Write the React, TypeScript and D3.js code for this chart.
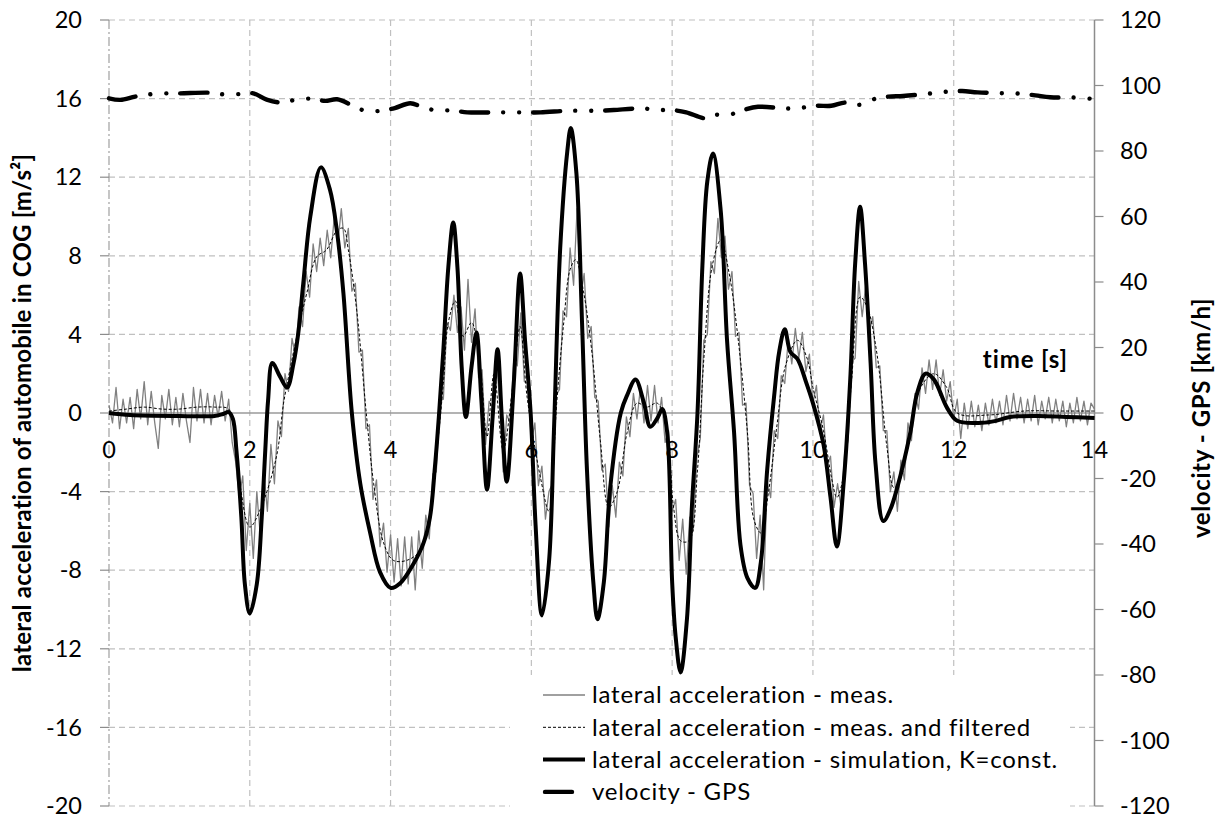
import * as d3 from "d3";
import React from "react";

// time axis and the two value axes
const timeTicks = [0, 2, 4, 6, 8, 10, 12, 14];
const accelTicks = [-20, -16, -12, -8, -4, 0, 4, 8, 12, 16, 20];
const speedTicks = [-120, -100, -80, -60, -40, -20, 0, 20, 40, 60, 80, 100, 120];

// measured lateral acceleration, one value every 0.05 s from 0 to 14 s
const measuredStep = 0.05;
const measured = [
  0.4, -0.5, 1.3, -0.8, 0.7, -0.5, 0.8, -0.8, 1.2, -0.3, 1.6, -0.6, 1.1, -0.5, -1.8, 0.9, -0.3, 1.2, -0.6, 0.8,
  -0.7, 1.0, -0.4, -1.5, 1.3, -0.4, 1.2, -0.5, 1.0, -0.6, 0.9, -0.2, 1.1, -0.4, 0.7, -1.5, -2.5, -4.3, -3.2, -7.0,
  -4.6, -7.4, -4.0, -6.3, -3.0, -5.0, -1.6, -3.6, -0.4, -1.2, 2.0, 1.1, 3.8, 2.9, 5.4, 4.4, 7.2, 5.9, 8.6, 7.2,
  8.9, 7.5, 9.3, 7.9, 10.0, 8.6, 10.4, 8.4, 9.4, 6.2, 6.6, 3.1, 3.2, -0.8, -0.6, -4.4, -3.4, -6.8, -5.6, -8.1,
  -6.2, -8.6, -6.4, -8.8, -6.3, -8.7, -6.3, -9.0, -6.0, -7.9, -5.2, -6.4, -3.1, -3.0, 0.6, 0.7, 4.6, 4.2, 6.0, 4.1,
  5.4, 3.2, 6.8, 3.6, 5.3, 1.8, 2.2, -1.6, 0.6, 0.3, 2.8, 0.6, -3.0, -0.1, -0.5, 2.7, 2.4, 5.1, 1.6, 1.5,
  -1.5, -0.5, -3.7, -2.7, -5.4, -4.0, -3.6, 0.9, 1.2, 5.2, 4.9, 8.4, 6.5, 10.4, 5.9, 7.1, 3.8, 4.4, 0.8, 0.6,
  -2.9, -2.6, -5.8, -3.7, -5.3, -2.5, -3.2, -0.2, -1.2, 1.0, -0.3, 1.3, -0.5, 1.4, -0.4, 1.4, -0.5, 0.8, -1.5, -0.9,
  -5.0, -4.4, -7.5, -5.4, -8.2, -5.3, -6.0, -2.3, -1.3, 3.7, 4.0, 7.7, 7.1, 9.9, 7.9, 9.0, 6.3, 7.2, 3.9, 4.1,
  0.4, 0.5, -3.7, -4.1, -7.4, -5.2, -9.0, -3.5, -4.3, -0.9, -1.3, 1.9, 1.5, 3.8, 2.5, 4.3, 2.8, 4.1, 2.1, 3.0,
  0.5, 1.4, -0.9, -0.1, -2.7, -2.2, -4.8, -3.6, -4.8, -2.1, -1.4, 2.6, 2.8, 6.7, 4.9, 6.5, 4.1, 4.9, 2.3, 2.4,
  -0.9, -0.9, -4.0, -3.0, -5.0, -2.4, -3.4, -0.5, -1.4, 1.0, 0.2, 2.3, 1.0, 2.7, 1.2, 2.7, 0.9, 2.2, 0.6, 1.6,
  -0.3, 0.7, -1.3, 0.5, -0.8, 0.6, -0.7, 0.4, -0.9, 0.5, -0.6, 0.7, -0.5, 0.6, -0.6, 0.9, -0.4, 1.0, -0.3, 0.8,
  -0.5, 0.7, -0.4, 0.9, -0.6, 0.6, -0.3, 0.8, -0.5, 0.7, -0.4, 0.6, -0.7, 0.5, -0.5, 0.8, -0.4, 0.6, -0.6, 0.5,
  0.2,
];

// measured and filtered [time s, acceleration m/s2]
const filtered: [number, number][] = [
  [0, 0.1], [0.25, 0.2], [0.5, 0.3], [0.75, 0.2], [1.0, 0.2], [1.25, 0.3], [1.5, 0.3], [1.7, 0.2],
  [1.78, -1.0], [1.86, -3.6], [2.0, -5.8], [2.15, -4.9], [2.38, -2.2], [2.48, 0.5], [2.57, 2.2],
  [2.71, 4.6], [2.81, 6.1], [2.95, 7.95], [3.09, 8.3], [3.24, 9.3], [3.33, 9.4], [3.4, 8.3],
  [3.52, 5.2], [3.66, -0.2], [3.76, -3.6], [3.9, -6.6], [4.04, -7.5], [4.23, -7.5], [4.42, -7.0],
  [4.56, -5.3], [4.66, -1.9], [4.75, 1.5], [4.82, 4.6], [4.92, 5.7], [5.03, 3.9], [5.15, 4.6],
  [5.27, 2.5], [5.37, -1.2], [5.47, 2.0], [5.6, -1.9], [5.74, 1.5], [5.84, 4.4], [5.94, 0.8],
  [6.13, -3.3], [6.25, -5.0], [6.36, 0.5], [6.46, 4.6], [6.55, 7.3], [6.63, 7.8], [6.74, 6.2],
  [6.86, 3.1], [6.98, -1.4], [7.1, -4.8], [7.22, -4.0], [7.36, -1.0], [7.5, 0.5], [7.64, 0.3],
  [7.79, 0.5], [7.93, -1.0], [8.02, -4.8], [8.12, -6.5], [8.24, -6.5], [8.36, -2.9], [8.45, 2.75],
  [8.57, 7.5], [8.69, 8.8], [8.81, 7.1], [8.92, 4.3], [9.07, -1.0], [9.16, -5.4], [9.26, -6.1],
  [9.37, -4.0], [9.49, -0.6], [9.61, 2.4], [9.78, 3.7], [9.92, 2.75], [10.0, 1.3], [10.15, -0.9],
  [10.27, -3.4], [10.34, -4.3], [10.44, -3.1], [10.55, 1.7], [10.67, 5.9], [10.77, 5.4], [10.91, 3.0],
  [11.05, -1.7], [11.15, -3.8], [11.24, -3.4], [11.38, -0.9], [11.53, 1.3], [11.72, 2.0], [11.9, 1.3],
  [12.05, 0], [12.5, -0.1], [13.0, 0.1], [13.5, 0.1], [14.0, 0.1],
];

// simulation, K=const. [time s, acceleration m/s2]
const simulation: [number, number][] = [
  [0, 0], [0.3, -0.1], [1.0, -0.15], [1.5, -0.15], [1.62, -0.05], [1.7, 0.05], [1.76, -0.3],
  [1.81, -1.9], [1.88, -5.3], [1.93, -8.7], [2.0, -10.2], [2.1, -8.7], [2.17, -5.3], [2.22, -1.9],
  [2.26, 0.65], [2.32, 2.55], [2.43, 1.85], [2.53, 1.3], [2.62, 2.5], [2.69, 4.1], [2.76, 6.6],
  [2.86, 10.0], [3.01, 12.5], [3.14, 11.35], [3.24, 9.2], [3.33, 6.1], [3.45, 0], [3.57, -3.6],
  [3.71, -6.1], [3.85, -8.1], [4.0, -8.9], [4.14, -8.65], [4.33, -7.65], [4.47, -6.6], [4.56, -5.3],
  [4.63, -2.75], [4.69, 0], [4.75, 3.2], [4.82, 7.4], [4.89, 9.7], [4.95, 7.4], [5.01, 2.35],
  [5.07, -0.2], [5.15, 2.35], [5.22, 4.1], [5.29, 0.65], [5.37, -3.9], [5.45, -0.2], [5.52, 3.25],
  [5.58, -0.2], [5.65, -3.5], [5.75, 1.5], [5.84, 7.1], [5.91, 3.7], [5.99, 0], [6.06, -5.7],
  [6.15, -10.3], [6.25, -7.6], [6.32, -1.0], [6.41, 8.4], [6.51, 13.3], [6.56, 14.5], [6.64, 12.2],
  [6.72, 4.6], [6.79, -2.9], [6.88, -8.6], [6.94, -10.5], [7.03, -8.6], [7.12, -3.8], [7.27, 0],
  [7.36, 0.9], [7.48, 1.7], [7.6, 0.5], [7.69, -0.7], [7.79, -0.26], [7.86, 0.2], [7.93, -1.0],
  [8.0, -8.6], [8.05, -11.4], [8.12, -13.2], [8.21, -10.5], [8.28, -4.8], [8.36, 0], [8.43, 7.5],
  [8.5, 11.8], [8.58, 13.2], [8.69, 10.3], [8.78, 3.7], [8.88, -1.0], [8.97, -6.7], [9.07, -8.4],
  [9.18, -8.9], [9.26, -7.6], [9.35, -2.9], [9.45, 0.9], [9.52, 3.1], [9.6, 4.26], [9.68, 3.1],
  [9.78, 2.75], [9.9, 1.6], [10.0, 0.5], [10.15, -1.6], [10.25, -4.3], [10.34, -6.8], [10.44, -3.4],
  [10.53, 1.7], [10.6, 7.6], [10.67, 10.5], [10.74, 7.6], [10.82, 2.5], [10.89, -2.6], [11.0, -5.5],
  [11.1, -4.9], [11.19, -3.9], [11.38, -1.05], [11.48, 1.0], [11.6, 2.0], [11.72, 1.7], [11.9, 0.3],
  [12.05, -0.4], [12.4, -0.5], [12.6, -0.4], [12.8, -0.2], [13.2, -0.15], [13.6, -0.2], [14.0, -0.25],
];

// velocity - GPS [time s, km/h]
const velocity: [number, number][] = [
  [0, 96.1], [0.16, 95.6], [0.37, 96.6], [0.58, 97.3], [0.81, 97.6], [1.0, 97.6], [1.44, 97.8],
  [1.63, 97.3], [1.86, 97.4], [2.05, 97.6], [2.24, 95.7], [2.45, 94.8], [2.64, 95.6], [2.87, 96.0],
  [3.07, 95.3], [3.24, 95.8], [3.45, 94.0], [3.65, 92.2], [3.87, 92.3], [4.06, 93.1], [4.28, 94.6],
  [4.45, 93.4], [4.65, 92.4], [4.87, 92.4], [5.09, 91.8], [5.49, 91.8], [5.69, 91.8], [5.91, 91.8],
  [6.13, 91.8], [6.52, 92.3], [6.75, 92.3], [6.98, 92.3], [7.17, 92.5], [7.58, 93.0], [7.78, 92.5],
  [8.0, 92.5], [8.2, 91.8], [8.47, 90.0], [8.59, 91.0], [8.8, 91.0], [9.01, 92.5], [9.22, 93.5],
  [9.62, 93.0], [9.83, 93.2], [10.05, 93.8], [10.26, 93.8], [10.46, 94.8], [10.66, 94.1], [10.86, 95.8],
  [11.07, 96.6], [11.28, 96.8], [11.69, 97.6], [11.9, 98.1], [12.12, 98.3], [12.34, 97.9], [12.74, 97.6],
  [12.94, 97.5], [13.16, 97.0], [13.37, 96.4], [13.77, 96.3], [14.0, 95.8],
];

const legendLabels = [
  "lateral acceleration - meas.",
  "lateral acceleration - meas. and filtered",
  "lateral acceleration - simulation, K=const.",
  "velocity - GPS",
];

const width = 1219;
const height = 816;
const font = "Lato, 'Open Sans', sans-serif";
const gridColor = "#c0c0c0";
const axisColor = "#8c8c8c";
const velocityDash = "27 15 0.01 16 0.01 14";

const x = d3.scaleLinear().domain([0, 14]).range([109, 1094.5]);
const y = d3.scaleLinear().domain([-20, 20]).range([806, 20]);
const yRight = d3.scaleLinear().domain([-120, 120]).range([806, 20]);

const App = () => {
  const measLine = d3.line<number>()
    .x((d, i) => x(i * measuredStep))
    .y((d) => y(d));
  const accLine = d3.line<[number, number]>()
    .x((d) => x(d[0]))
    .y((d) => y(d[1]))
    .curve(d3.curveCatmullRom.alpha(0.5));
  const speedLine = d3.line<[number, number]>()
    .x((d) => x(d[0]))
    .y((d) => yRight(d[1]))
    .curve(d3.curveCatmullRom.alpha(0.5));

  const [x0, x1] = x.range();
  const yTop = y(20);
  const yBottom = y(-20);

  // legend box
  const legX = 510;
  const legY = 675;
  const legW = 560;
  const rowY = (i: number) => 695 + i * 32.3;
  const swatchX0 = 543;
  const swatchX1 = 585;

  return (
    <svg
      width={width}
      height={height}
      style={{ position: "absolute", left: 0, top: 0, background: "#fff" }}
      fontFamily={font}
    >
      {/* horizontal grid */}
      {accelTicks.filter((t) => t !== 0).map((t) => (
        <line key={"h" + t} x1={x0} x2={x1} y1={y(t)} y2={y(t)}
          stroke={gridColor} strokeWidth={1.2} strokeDasharray="6 4" />
      ))}
      {/* vertical grid */}
      {timeTicks.slice(1, -1).map((t) => (
        <line key={"v" + t} x1={x(t)} x2={x(t)} y1={yTop} y2={yBottom}
          stroke={gridColor} strokeWidth={1.2} strokeDasharray="6 4" />
      ))}

      {/* left axis: dash-dot line with ticks */}
      <line x1={x0} x2={x0} y1={yTop} y2={yBottom} stroke="#a0a0a0" strokeWidth={1.2}
        strokeDasharray="9 3 2 3" />
      {accelTicks.map((t) => (
        <line key={"lt" + t} x1={x0 - 9} x2={x0} y1={y(t)} y2={y(t)} stroke={axisColor} strokeWidth={1.2} />
      ))}
      {/* right axis */}
      <line x1={x1} x2={x1} y1={yTop} y2={yBottom} stroke={axisColor} strokeWidth={1.5} />
      {speedTicks.map((t) => (
        <line key={"rt" + t} x1={x1} x2={x1 + 9} y1={yRight(t)} y2={yRight(t)} stroke={axisColor} strokeWidth={1.2} />
      ))}
      {/* zero line */}
      <line x1={x0} x2={x1} y1={y(0)} y2={y(0)} stroke="#9a9a9a" strokeWidth={1.6} />

      {/* series */}
      <path d={measLine(measured) ?? ""} fill="none" stroke="#808080" strokeWidth={1.3} strokeLinejoin="round" />
      <path d={accLine(filtered) ?? ""} fill="none" stroke="#000" strokeWidth={1} strokeDasharray="3 2" />
      <path d={accLine(simulation) ?? ""} fill="none" stroke="#000" strokeWidth={4} strokeLinejoin="round" />
      <path d={speedLine(velocity) ?? ""} fill="none" stroke="#000" strokeWidth={4.4}
        strokeDasharray={velocityDash} strokeLinecap="round" />

      {/* tick labels */}
      {accelTicks.map((t) => (
        <text key={"ll" + t} x={82} y={y(t)} dy="0.35em" textAnchor="end" fontSize={23.5} fill="#000">{t}</text>
      ))}
      {speedTicks.map((t) => (
        <text key={"rl" + t} x={1120} y={yRight(t)} dy="0.35em" textAnchor="start" fontSize={23.5} fill="#000">{t}</text>
      ))}
      {timeTicks.map((t) => (
        <text key={"xl" + t} x={x(t)} y={458} textAnchor="middle" fontSize={23.5} fill="#000">{t}</text>
      ))}

      {/* axis titles */}
      <text transform={`translate(31, ${(yTop + yBottom) / 2}) rotate(-90)`} textAnchor="middle"
        fontSize={24} fontWeight="bold" letterSpacing={0.2}>lateral acceleration of automobile in COG [m/s²]</text>
      <text transform={`translate(1210, 418) rotate(-90)`} textAnchor="middle"
        fontSize={24} fontWeight="bold" letterSpacing={0.6}>velocity - GPS [km/h]</text>
      <text x={1068} y={368} textAnchor="end" fontSize={24} fontWeight="bold" letterSpacing={0.9}>time [s]</text>

      {/* legend */}
      <rect x={legX} y={legY} width={legW} height={yBottom - legY + 1} fill="#fff" />
      <line x1={swatchX0} x2={swatchX1} y1={rowY(0)} y2={rowY(0)} stroke="#808080" strokeWidth={1.3} />
      <line x1={swatchX0} x2={swatchX1} y1={rowY(1)} y2={rowY(1)} stroke="#000" strokeWidth={1} strokeDasharray="3 2" />
      <line x1={swatchX0} x2={swatchX1} y1={rowY(2)} y2={rowY(2)} stroke="#000" strokeWidth={4} />
      <line x1={swatchX0 + 2} x2={swatchX1} y1={rowY(3)} y2={rowY(3)} stroke="#000" strokeWidth={4.4}
        strokeDasharray={velocityDash} strokeLinecap="round" />
      {legendLabels.map((s, i) => (
        <text key={s} x={592} y={rowY(i)} dy="0.35em" fontSize={24} letterSpacing={0.8} fill="#000">{s}</text>
      ))}
    </svg>
  );
};

export default App;
